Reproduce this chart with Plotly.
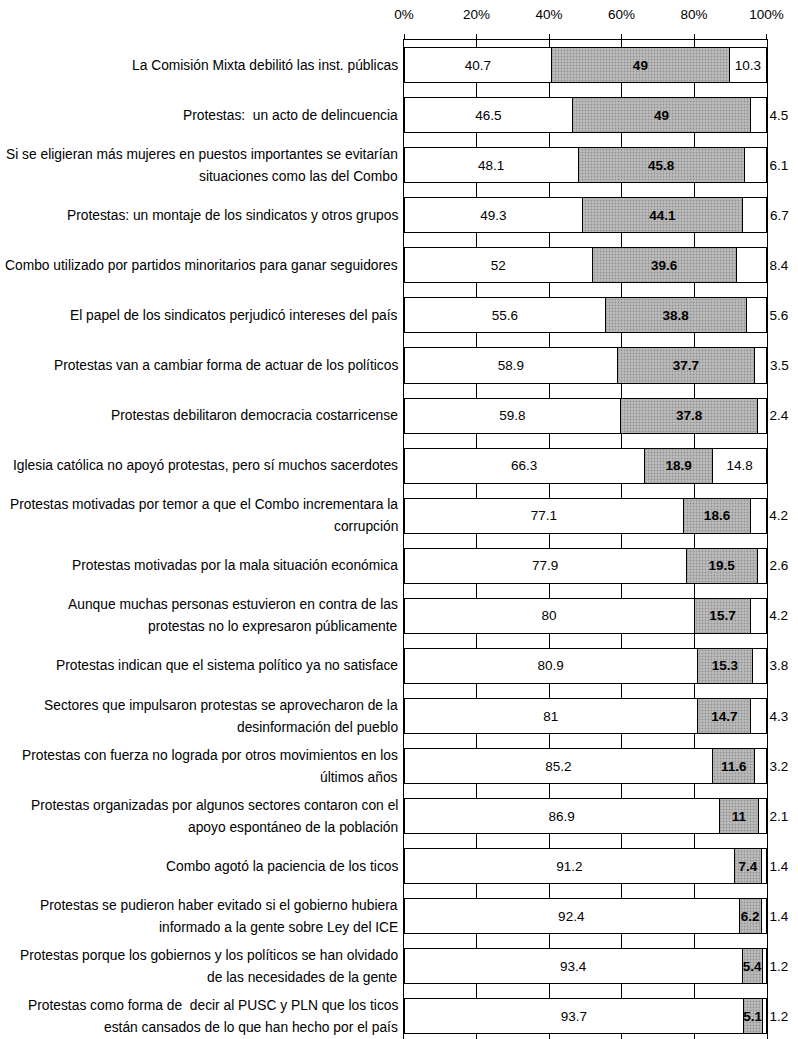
import plotly.graph_objects as go

categories = [
    "La Comisión Mixta debilitó las inst. públicas",
    "Protestas:  un acto de delincuencia",
    "Si se eligieran más mujeres en puestos importantes se evitarían<br>situaciones como las del Combo",
    "Protestas: un montaje de los sindicatos y otros grupos",
    "Combo utilizado por partidos minoritarios para ganar seguidores",
    "El papel de los sindicatos perjudicó intereses del país",
    "Protestas van a cambiar forma de actuar de los políticos",
    "Protestas debilitaron democracia costarricense",
    "Iglesia católica no apoyó protestas, pero sí muchos sacerdotes",
    "Protestas motivadas por temor a que el Combo incrementara la<br>corrupción",
    "Protestas motivadas por la mala situación económica",
    "Aunque muchas personas estuvieron en contra de las<br>protestas no lo expresaron públicamente",
    "Protestas indican que el sistema político ya no satisface",
    "Sectores que impulsaron protestas se aprovecharon de la<br>desinformación del pueblo",
    "Protestas con fuerza no lograda por otros movimientos en los<br>últimos años",
    "Protestas organizadas por algunos sectores contaron con el<br>apoyo espontáneo de la población",
    "Combo agotó la paciencia de los ticos",
    "Protestas se pudieron haber evitado si el gobierno hubiera<br>informado a la gente sobre Ley del ICE",
    "Protestas porque los gobiernos y los políticos se han olvidado<br>de las necesidades de la gente",
    "Protestas como forma de  decir al PUSC y PLN que los ticos<br>están cansados de lo que han hecho por el país",
]

seg1 = [40.7, 46.5, 48.1, 49.3, 52, 55.6, 58.9, 59.8, 66.3, 77.1,
        77.9, 80, 80.9, 81, 85.2, 86.9, 91.2, 92.4, 93.4, 93.7]
seg2 = [49, 49, 45.8, 44.1, 39.6, 38.8, 37.7, 37.8, 18.9, 18.6,
        19.5, 15.7, 15.3, 14.7, 11.6, 11, 7.4, 6.2, 5.4, 5.1]
seg3 = [10.3, 4.5, 6.1, 6.7, 8.4, 5.6, 3.5, 2.4, 14.8, 4.2,
        2.6, 4.2, 3.8, 4.3, 3.2, 2.1, 1.4, 1.4, 1.2, 1.2]

x_ticks = [0, 20, 40, 60, 80, 100]
x_ticklabels = ["0%", "20%", "40%", "60%", "80%", "100%"]

FONT = "Liberation Sans, Arial, sans-serif"
NUM_SIZE = 13.5
LABEL_SIZE = 13.8
ypos = list(range(len(categories)))
fmt = lambda v: f"{v:g}"

fig = go.Figure()
common = dict(orientation="h", y=ypos, width=0.7, constraintext="none",
              textangle=0, insidetextanchor="middle", cliponaxis=False,
              marker_line=dict(color="black", width=1), hoverinfo="skip")

fig.add_trace(go.Bar(x=seg1, text=[fmt(v) for v in seg1], textposition="inside",
                     marker_color="white",
                     textfont=dict(family=FONT, size=NUM_SIZE, color="black"), **common))
fig.add_trace(go.Bar(x=seg2, text=[f"<b>{fmt(v)}</b>" for v in seg2], textposition="inside",
                     marker=dict(color="#b0b0b0",
                                 pattern=dict(shape=".", fgcolor="#666666", bgcolor="#bdbdbd",
                                              size=3, solidity=0.3)),
                     textfont=dict(family=FONT, size=NUM_SIZE, color="black"), **common))
fig.add_trace(go.Bar(x=seg3, text=[fmt(v) for v in seg3],
                     textposition=["inside" if v >= 10 else "outside" for v in seg3],
                     marker_color="white",
                     textfont=dict(family=FONT, size=NUM_SIZE, color="black"),
                     outsidetextfont=dict(family=FONT, size=NUM_SIZE, color="black"), **common))

annotations = []
for i, c in enumerate(categories):
    lines = c.split("<br>")
    n = len(lines)
    for j, ln in enumerate(lines):
        off = (j - (n - 1) / 2) * 22
        annotations.append(dict(x=0, xref="paper", y=i, yref="y", yshift=-off,
                                text=ln, showarrow=False, xanchor="right", xshift=-4,
                                align="center", font=dict(family=FONT, size=LABEL_SIZE, color="black")))

fig.update_layout(
    barmode="stack", width=798, height=1039,
    margin=dict(l=404, r=31, t=40, b=0),
    paper_bgcolor="white", plot_bgcolor="white",
    showlegend=False, bargap=0.3,
    font=dict(family=FONT, size=12, color="black"),
    annotations=annotations,
    xaxis=dict(side="top", range=[0, 100.12], tickvals=x_ticks, ticktext=x_ticklabels,
               showgrid=True, gridcolor="black", gridwidth=1, zeroline=False,
               showline=True, linecolor="black", linewidth=1,
               ticks="outside", ticklen=5, tickcolor="black", ticklabelstandoff=10,
               tickfont=dict(family=FONT, size=NUM_SIZE, color="black")),
    yaxis=dict(range=[19.45, -0.5], showticklabels=False, showgrid=False, zeroline=False,
               showline=True, linecolor="black", linewidth=1, mirror=True, ticks=""),
)

fig.write_html("out.html", config={"displayModeBar": False},
               post_script="document.body.style.margin='0';document.body.style.overflow='hidden';")
